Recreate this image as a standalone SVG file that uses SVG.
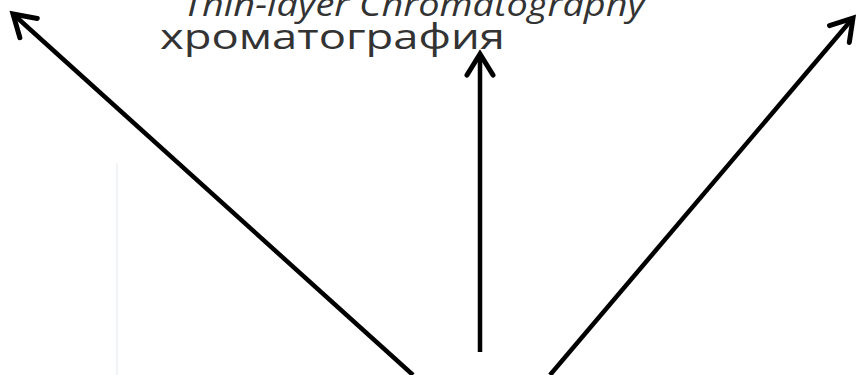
<svg xmlns="http://www.w3.org/2000/svg" width="856" height="375" viewBox="0 0 856 375">
<style>
.conn{stroke:#000;stroke-width:4.5;fill:none;marker-end:url(#chev)}
.title{font-family:"Open Sans","Noto Sans",sans-serif;fill:#333}
</style>
<defs>
<marker id="chev" markerUnits="userSpaceOnUse" markerWidth="40" markerHeight="40" viewBox="-30 -20 40 40" refX="0" refY="0" orient="auto">
<path d="M-21,-13 L0,0 L-21,13" stroke="#000" stroke-width="5" fill="none" stroke-linecap="round" stroke-linejoin="miter"/>
</marker>
</defs>
<rect width="856" height="375" fill="#fff"/>
<line id="faint" x1="117" y1="163" x2="117" y2="375" stroke="#e3e8ef" stroke-width="1"/>
<g id="labels">
<text class="title" x="183" y="16" font-size="32" font-style="italic" textLength="462" lengthAdjust="spacingAndGlyphs">Thin-layer Chromatography</text>
<text class="title" x="160" y="49" font-size="35" textLength="345" lengthAdjust="spacingAndGlyphs">хроматография</text>
</g>
<g id="connectors">
<line class="conn" x1="413" y1="375" x2="13" y2="14"/>
<line class="conn" x1="480" y1="352" x2="480" y2="54"/>
<line class="conn" x1="550" y1="375" x2="853" y2="18"/>
</g>
</svg>
